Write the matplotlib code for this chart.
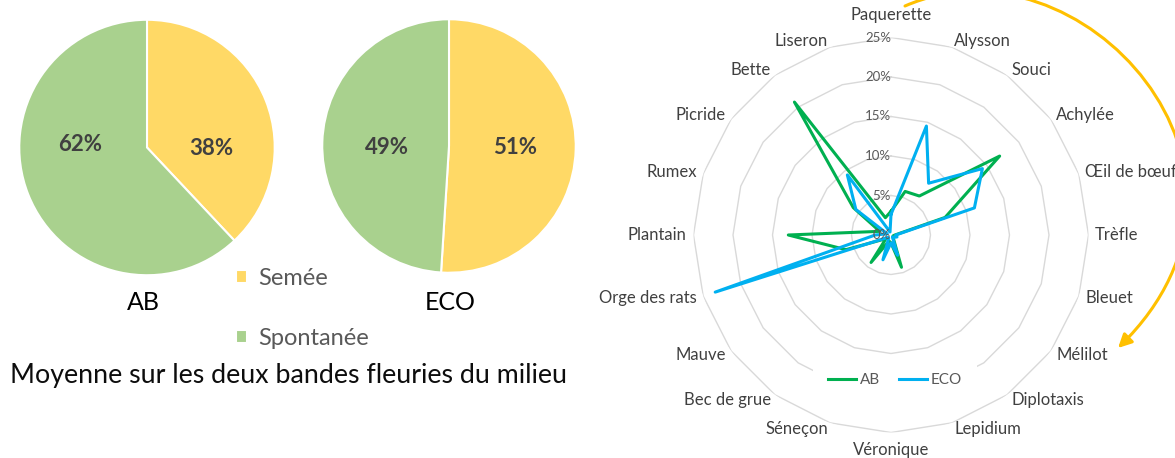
import numpy as np
import matplotlib
matplotlib.use('Agg')
import matplotlib.pyplot as plt
from matplotlib.patches import FancyArrowPatch
from matplotlib.path import Path

plt.rcParams['font.family'] = ['Lato', 'DejaVu Sans']

# pies : part semee / spontanee
pie_labels = ['Semée', 'Spontanée']
ab_parts = [38, 62]
eco_parts = [51, 49]
caption = 'Moyenne sur les deux bandes fleuries du milieu'

# radar : abondance relative (%) par espece
species = ['Paquerette', 'Alysson', 'Souci', 'Achylée', 'Œil de bœuf', 'Trèfle',
           'Bleuet', 'Mélilot', 'Diplotaxis', 'Lepidium', 'Véronique', 'Séneçon',
           'Bec de grue', 'Mauve', 'Orge des rats', 'Plantain', 'Rumex', 'Picride',
           'Bette', 'Liseron']
ab_vals = [3.0, 5.8, 6.1, 17.0, 7.2, 0.5, 0.3, 0.3, 0.5, 4.3,
           1.0, 0.8, 4.3, 0.8, 6.0, 13.0, 1.5, 5.9, 20.8, 2.3]
eco_vals = [2.6, 14.5, 8.1, 14.3, 11.1, 0.6, 0.8, 0.5, 0.3, 2.7,
            1.0, 3.3, 0.5, 0.5, 23.4, 2.0, 0.5, 5.5, 9.4, 0.4]
rings = [5, 10, 15, 20, 25]

W, H = 1175, 458
fig = plt.figure(figsize=(W / 100, H / 100), dpi=100)

yellow = '#FFD966'
green = '#A9D18E'
c_ab = '#00B050'
c_eco = '#00B0F0'


def px_rect(cx, cy, r):
    # rectangle (figure fraction) d'un carre centre sur (cx, cy) en pixels image
    return [(cx - r) / W, (H - cy - r) / H, 2 * r / W, 2 * r / H]


def draw_pie(cx, cy, r, parts, txt_pos):
    ax = fig.add_axes(px_rect(cx, cy, r))
    wedges, _ = ax.pie(parts, colors=[yellow, green], startangle=90, counterclock=False,
                       wedgeprops=dict(edgecolor='white', linewidth=1.5))
    ax.set_xlim(-1.01, 1.01)
    ax.set_ylim(-1.01, 1.01)
    for v, (x, y) in zip(parts, txt_pos):
        ax.text(x, y, '{}%'.format(v), ha='center', va='center', fontsize=16,
                fontweight='bold', color='#404040')
    return wedges


wedges = draw_pie(147, 147.5, 129, ab_parts, [(0.50, -0.01), (-0.52, 0.02)])
draw_pie(449, 146, 128, eco_parts, [(0.52, -0.01), (-0.49, -0.01)])

fig.text(143.5 / W, 1 - 302 / H, 'AB', ha='center', va='center', fontsize=18, color='black')
fig.text(450 / W, 1 - 302 / H, 'ECO', ha='center', va='center', fontsize=18, color='black')

fig.legend(wedges, pie_labels, loc='upper left', bbox_to_anchor=(236 / W, 1 - 268 / H),
           frameon=False, fontsize=17, labelcolor='#595959', handlelength=0.45,
           handleheight=0.45, handletextpad=0.5, labelspacing=1.66, borderpad=0,
           borderaxespad=0)

fig.text(10 / W, 1 - 376 / H, caption, ha='left', va='center', fontsize=19.3, color='#0d0d0d')

# radar
ax = fig.add_axes(px_rect(891, 235, 197.5), projection='polar')
ax.set_theta_zero_location('N')
ax.set_theta_direction(-1)
ax.set_ylim(0, 25)
ax.grid(False)
ax.set_xticks([])
ax.set_yticks([])
ax.spines['polar'].set_visible(False)
ax.patch.set_alpha(0)

theta = np.linspace(0, 2 * np.pi, len(species), endpoint=False)
tc = np.append(theta, theta[0])
for rv in rings:
    ax.plot(tc, [rv] * len(tc), color='#D9D9D9', lw=1, zorder=1)

ax.plot(tc, ab_vals + ab_vals[:1], color=c_ab, lw=2.2, label='AB', zorder=3)
ax.plot(tc, eco_vals + eco_vals[:1], color=c_eco, lw=2.2, label='ECO', zorder=4)

for rv in [0] + rings:
    ax.text(0, rv, '{}%'.format(rv), ha='right', va='center', fontsize=9.5,
            color='#595959', zorder=5)

for t, name in zip(theta, species):
    deg = np.rad2deg(t)
    if np.isclose(deg, 0):
        ax.text(t, 27.8, name, ha='center', va='center', fontsize=12, color='#404040')
    elif np.isclose(deg, 180):
        ax.text(t, 27.2, name, ha='center', va='center', fontsize=12, color='#404040')
    else:
        ax.text(t, 25.85, name, ha='left' if deg < 180 else 'right', va='center',
                fontsize=12, color='#404040')

ax.legend(loc='center', bbox_to_anchor=(895 / W, 1 - 380 / H), bbox_transform=fig.transFigure,
          ncol=2, frameon=True, facecolor='white', edgecolor='none', framealpha=1,
          fontsize=11, labelcolor='#595959', handlelength=1.85, handletextpad=0.25,
          columnspacing=1.2, borderpad=1.0)

# fleche doree
pts = [(905, 6), (1080, -70), (1300, 170), (1118, 348)]
verts = [(x / W, 1 - y / H) for x, y in pts]
arrow = FancyArrowPatch(path=Path(verts, [Path.MOVETO, Path.CURVE4, Path.CURVE4, Path.CURVE4]),
                        arrowstyle='-|>', mutation_scale=20, color='#FFC000', lw=2.2,
                        transform=fig.transFigure)
fig.add_artist(arrow)

fig.savefig('out.png', dpi=100)
